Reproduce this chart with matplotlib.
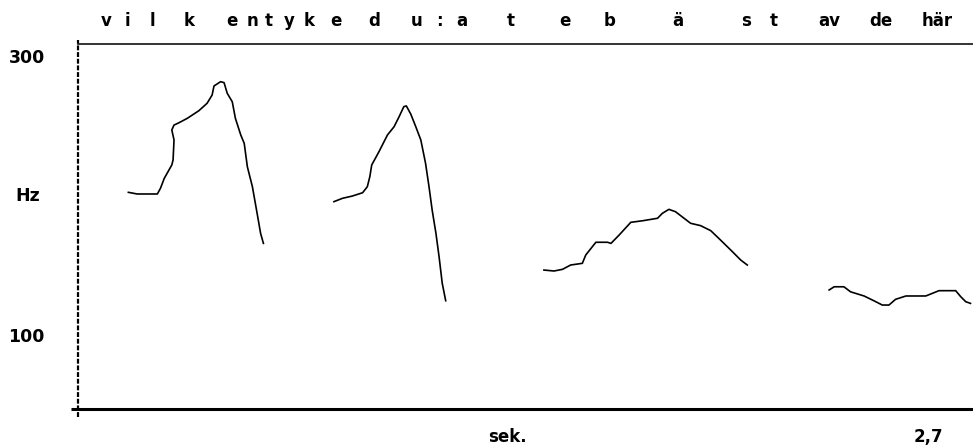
import matplotlib
matplotlib.use('Agg')
import matplotlib.pyplot as plt
import matplotlib.transforms as mtransforms
from matplotlib.lines import Line2D

# ---------------------------------------------------------------------------
# F0 contour, one list pair per voiced stretch (seconds, Hz)

seg1_t = [0.160, 0.188, 0.252, 0.262, 0.274, 0.298, 0.302, 0.305, 0.298, 0.305,
          0.321, 0.347, 0.384, 0.410, 0.426, 0.432, 0.453, 0.464, 0.474, 0.490,
          0.500, 0.517, 0.528, 0.538, 0.554, 0.569, 0.580, 0.589]
seg1_hz = [202.3, 201.1, 201.1, 205.2, 212.3, 221.9, 225.5, 239.8, 247.0, 250.5,
           252.2, 255.3, 260.8, 266.1, 272.0, 278.5, 281.6, 280.9, 273.3, 267.2,
           255.3, 243.4, 237.4, 220.6, 206.3, 187.2, 172.9, 165.7]

seg2_t = [0.813, 0.840, 0.871, 0.904, 0.919, 0.927, 0.933, 0.956, 0.983, 1.004,
          1.020, 1.035, 1.043, 1.057, 1.073, 1.089, 1.104, 1.115, 1.125, 1.137,
          1.147, 1.157, 1.168]
seg2_hz = [195.6, 198.0, 199.6, 202.0, 206.3, 213.5, 221.9, 231.4, 243.4, 249.3,
           256.5, 263.7, 264.2, 258.4, 249.3, 239.8, 223.1, 206.3, 189.6, 172.9,
           156.1, 137.1, 124.6]

seg3_t = [1.480, 1.512, 1.539, 1.565, 1.602, 1.613, 1.645, 1.682, 1.693, 1.719,
          1.756, 1.793, 1.841, 1.856, 1.877, 1.898, 1.946, 1.978, 2.010, 2.041,
          2.079, 2.105, 2.126]
seg3_hz = [146.6, 145.9, 147.1, 150.2, 151.4, 157.4, 166.5, 166.5, 165.7, 171.7,
           180.8, 181.9, 183.7, 187.2, 190.1, 188.4, 180.1, 178.4, 174.8, 168.1,
           159.7, 153.8, 150.2]

seg4_t = [2.386, 2.402, 2.433, 2.454, 2.497, 2.528, 2.555, 2.576, 2.597, 2.630,
          2.693, 2.735, 2.788, 2.804, 2.820, 2.835]
seg4_hz = [132.3, 134.6, 134.6, 131.0, 128.0, 124.6, 121.5, 121.5, 125.6, 128.0,
           128.0, 131.8, 131.8, 127.5, 123.9, 122.7]

segments = [(seg1_t, seg1_hz), (seg2_t, seg2_hz), (seg3_t, seg3_hz), (seg4_t, seg4_hz)]

# segment transcription along the top, with its time position
phones = ['v', 'i', 'l', 'k', 'e', 'n', 't', 'y', 'k', 'e', 'd', 'u', ':', 'a',
          't', 'e', 'b', 'ä', 's', 't', 'av', 'de', 'här']
phone_t = [0.089, 0.156, 0.235, 0.353, 0.489, 0.553, 0.607, 0.670, 0.734, 0.820,
           0.940, 1.077, 1.147, 1.220, 1.375, 1.547, 1.687, 1.906, 2.122, 2.211,
           2.386, 2.551, 2.729]

y_ticks = [100, 300]
x_ticks = [2.7]
x_ticklabels = ['2,7']

# ---------------------------------------------------------------------------

dpi = 100.0
W, H = 973, 447

fig = plt.figure(figsize=(W / dpi, H / dpi), dpi=dpi)
fig.patch.set_facecolor('white')
ax = fig.add_axes([78 / W, 38 / H, 895 / W, 365 / H])

for t, hz in segments:
    ax.plot(t, hz, color='black', lw=1.2, solid_joinstyle='round')

ax.set_xlim(0, 2.843)
ax.set_ylim(47.0, 308.6)

bold = dict(family='DejaVu Sans', weight='bold')

ax.set_yticks(y_ticks)
ax.set_yticklabels([str(v) for v in y_ticks], fontsize=12.5, **bold)
ax.tick_params(axis='y', length=0, pad=24)
ax.set_xticks(x_ticks)
ax.set_xticklabels(x_ticklabels, fontsize=12, **bold)
ax.tick_params(axis='x', length=0, pad=14)

ax.set_xlabel('sek.', fontsize=12, **bold)
ax.xaxis.set_label_coords(0.48, -0.052)
ax.text(-0.056, 200, 'Hz', transform=mtransforms.blended_transform_factory(ax.transAxes, ax.transData),
        ha='center', va='center', fontsize=12.5, **bold)

# transcription row above the frame
trans_top = mtransforms.blended_transform_factory(ax.transData, ax.transAxes)
for p, t in zip(phones, phone_t):
    ax.text(t, 1.049, p, transform=trans_top, ha='center', va='baseline',
            fontsize=12, clip_on=False, **bold)

# frame: thin top, heavy bottom, dashed left, no right
ax.spines['right'].set_visible(False)
ax.spines['left'].set_visible(False)
ax.spines['top'].set_linewidth(1.2)
ax.spines['top'].set_color('#111111')
ax.spines['bottom'].set_visible(False)
ax.add_line(Line2D([-7 / 895, 1], [0, 0], transform=ax.transAxes, color='black',
                   lw=2.2, clip_on=False, solid_capstyle='butt'))
ax.add_line(Line2D([0, 0], [-8 / 365, 1 + 4 / 365], transform=ax.transAxes, color='black',
                   lw=1.6, linestyle=(0, (2.2, 0.8)), clip_on=False))

fig.savefig('out.png', dpi=dpi)
